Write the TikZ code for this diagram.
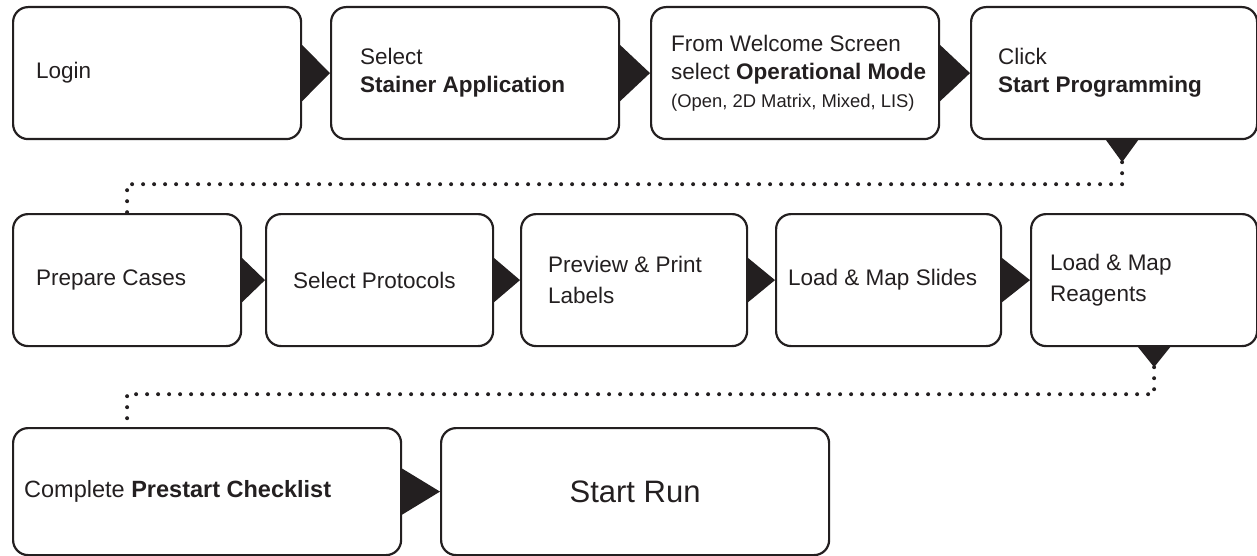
\documentclass[tikz,border=0pt]{standalone}
\usepackage{fontspec}
\setmainfont{Liberation Sans}
\usetikzlibrary{positioning}
\definecolor{ink}{HTML}{231F20}

\begin{document}
\begin{tikzpicture}[x=1pt, y=1pt,
    stepbox/.style={draw=ink, line width=2.2pt, rounded corners=15pt, anchor=north west, inner sep=0pt},
    steptext/.style={inner sep=0pt, align=left, text=ink, font=\fontsize{22.5pt}{28pt}\selectfont},
    pointer/.style={fill=ink},
    dotline/.style={draw=ink, line width=4pt, line cap=round, dash pattern=on 0pt off 11pt}]
    \useasboundingbox (0,0) rectangle (1257,-556);

    % Row 1
    \node[stepbox, minimum width=288pt, minimum height=132pt] (login) at (12,-6) {};
    \node[stepbox, minimum width=288pt, minimum height=132pt] (stainer) at (330,-6) {};
    \node[stepbox, minimum width=288pt, minimum height=132pt] (mode) at (650,-6) {};
    \node[stepbox, minimum width=286pt, minimum height=132pt] (prog) at (970,-6) {};

    \node[steptext, right=24pt of login.west] (logintext) {Login};
    \node[steptext, right=30pt of stainer.west] (stainertext) {Select\\\textbf{Stainer Application}};
    \node[steptext, right=21pt of mode.west] (modetext) {From Welcome Screen\\select \textbf{Operational Mode}\\{\fontsize{18.4pt}{27pt}\selectfont(Open, 2D Matrix, Mixed, LIS)}};
    \node[steptext, right=28pt of prog.west] (progtext) {Click\\\textbf{Start Programming}};

    \fill[pointer] ([yshift=28pt]login.east) -- ([yshift=-28pt]login.east) -- (stainer.west) -- cycle;
    \fill[pointer] ([yshift=28pt]stainer.east) -- ([yshift=-28pt]stainer.east) -- (mode.west) -- cycle;
    \fill[pointer] ([yshift=28pt]mode.east) -- ([yshift=-28pt]mode.east) -- (prog.west) -- cycle;

    % Row 2
    \node[stepbox, minimum width=228pt, minimum height=132pt] (cases) at (12,-213) {};
    \node[stepbox, minimum width=227pt, minimum height=132pt] (protocols) at (265,-213) {};
    \node[stepbox, minimum width=226pt, minimum height=132pt] (labels) at (520,-213) {};
    \node[stepbox, minimum width=225pt, minimum height=132pt] (slides) at (775,-213) {};
    \node[stepbox, minimum width=226pt, minimum height=132pt] (reagents) at (1030,-213) {};

    \node[steptext, right=24pt of cases.west] (casestext) {Prepare Cases};
    \node[steptext, right=28pt of protocols.west] (protocolstext) {Select Protocols};
    \node[steptext, font=\fontsize{22.5pt}{31pt}\selectfont, right=28pt of labels.west] (labelstext) {Preview \& Print\\Labels};
    \node[steptext, right=13pt of slides.west] (slidestext) {Load \& Map Slides};
    \node[steptext, font=\fontsize{22.5pt}{31pt}\selectfont, right=20pt of reagents.west] (reagentstext) {Load \& Map\\Reagents};

    \fill[pointer] ([yshift=22pt]cases.east) -- ([yshift=-22pt]cases.east) -- (protocols.west) -- cycle;
    \fill[pointer] ([yshift=22pt]protocols.east) -- ([yshift=-22pt]protocols.east) -- (labels.west) -- cycle;
    \fill[pointer] ([yshift=22pt]labels.east) -- ([yshift=-22pt]labels.east) -- (slides.west) -- cycle;
    \fill[pointer] ([yshift=22pt]slides.east) -- ([yshift=-22pt]slides.east) -- (reagents.west) -- cycle;

    % Row 3
    \node[stepbox, minimum width=388pt, minimum height=127pt] (check) at (12,-427) {};
    \node[stepbox, minimum width=388pt, minimum height=127pt] (startrun) at (440,-427) {};

    \node[steptext, font=\fontsize{23.5pt}{28pt}\selectfont, right=12pt of check.west] (checktext) {Complete \textbf{Prestart Checklist}};
    \node[steptext, font=\fontsize{31pt}{36pt}\selectfont] (runtext) at (startrun.center) {Start Run};

    \fill[pointer] ([yshift=23pt]check.east) -- ([yshift=-23pt]check.east) -- (startrun.west) -- cycle;

    % row breaks
    \coordinate (progtip) at ([xshift=8pt, yshift=-22pt]prog.south);
    \fill[pointer] ([xshift=-8pt]prog.south) -- ([xshift=24pt]prog.south) -- (progtip) -- cycle;
    \draw[dotline] (progtip) -- ++(0,-22pt) -| (cases.north);

    \coordinate (reagtip) at ([xshift=10pt, yshift=-20pt]reagents.south);
    \fill[pointer] ([xshift=-6pt]reagents.south) -- ([xshift=26pt]reagents.south) -- (reagtip) -- cycle;
    \draw[dotline] (reagtip) -- ++(0,-27pt) -| (cases.south |- check.north);
\end{tikzpicture}
\end{document}
